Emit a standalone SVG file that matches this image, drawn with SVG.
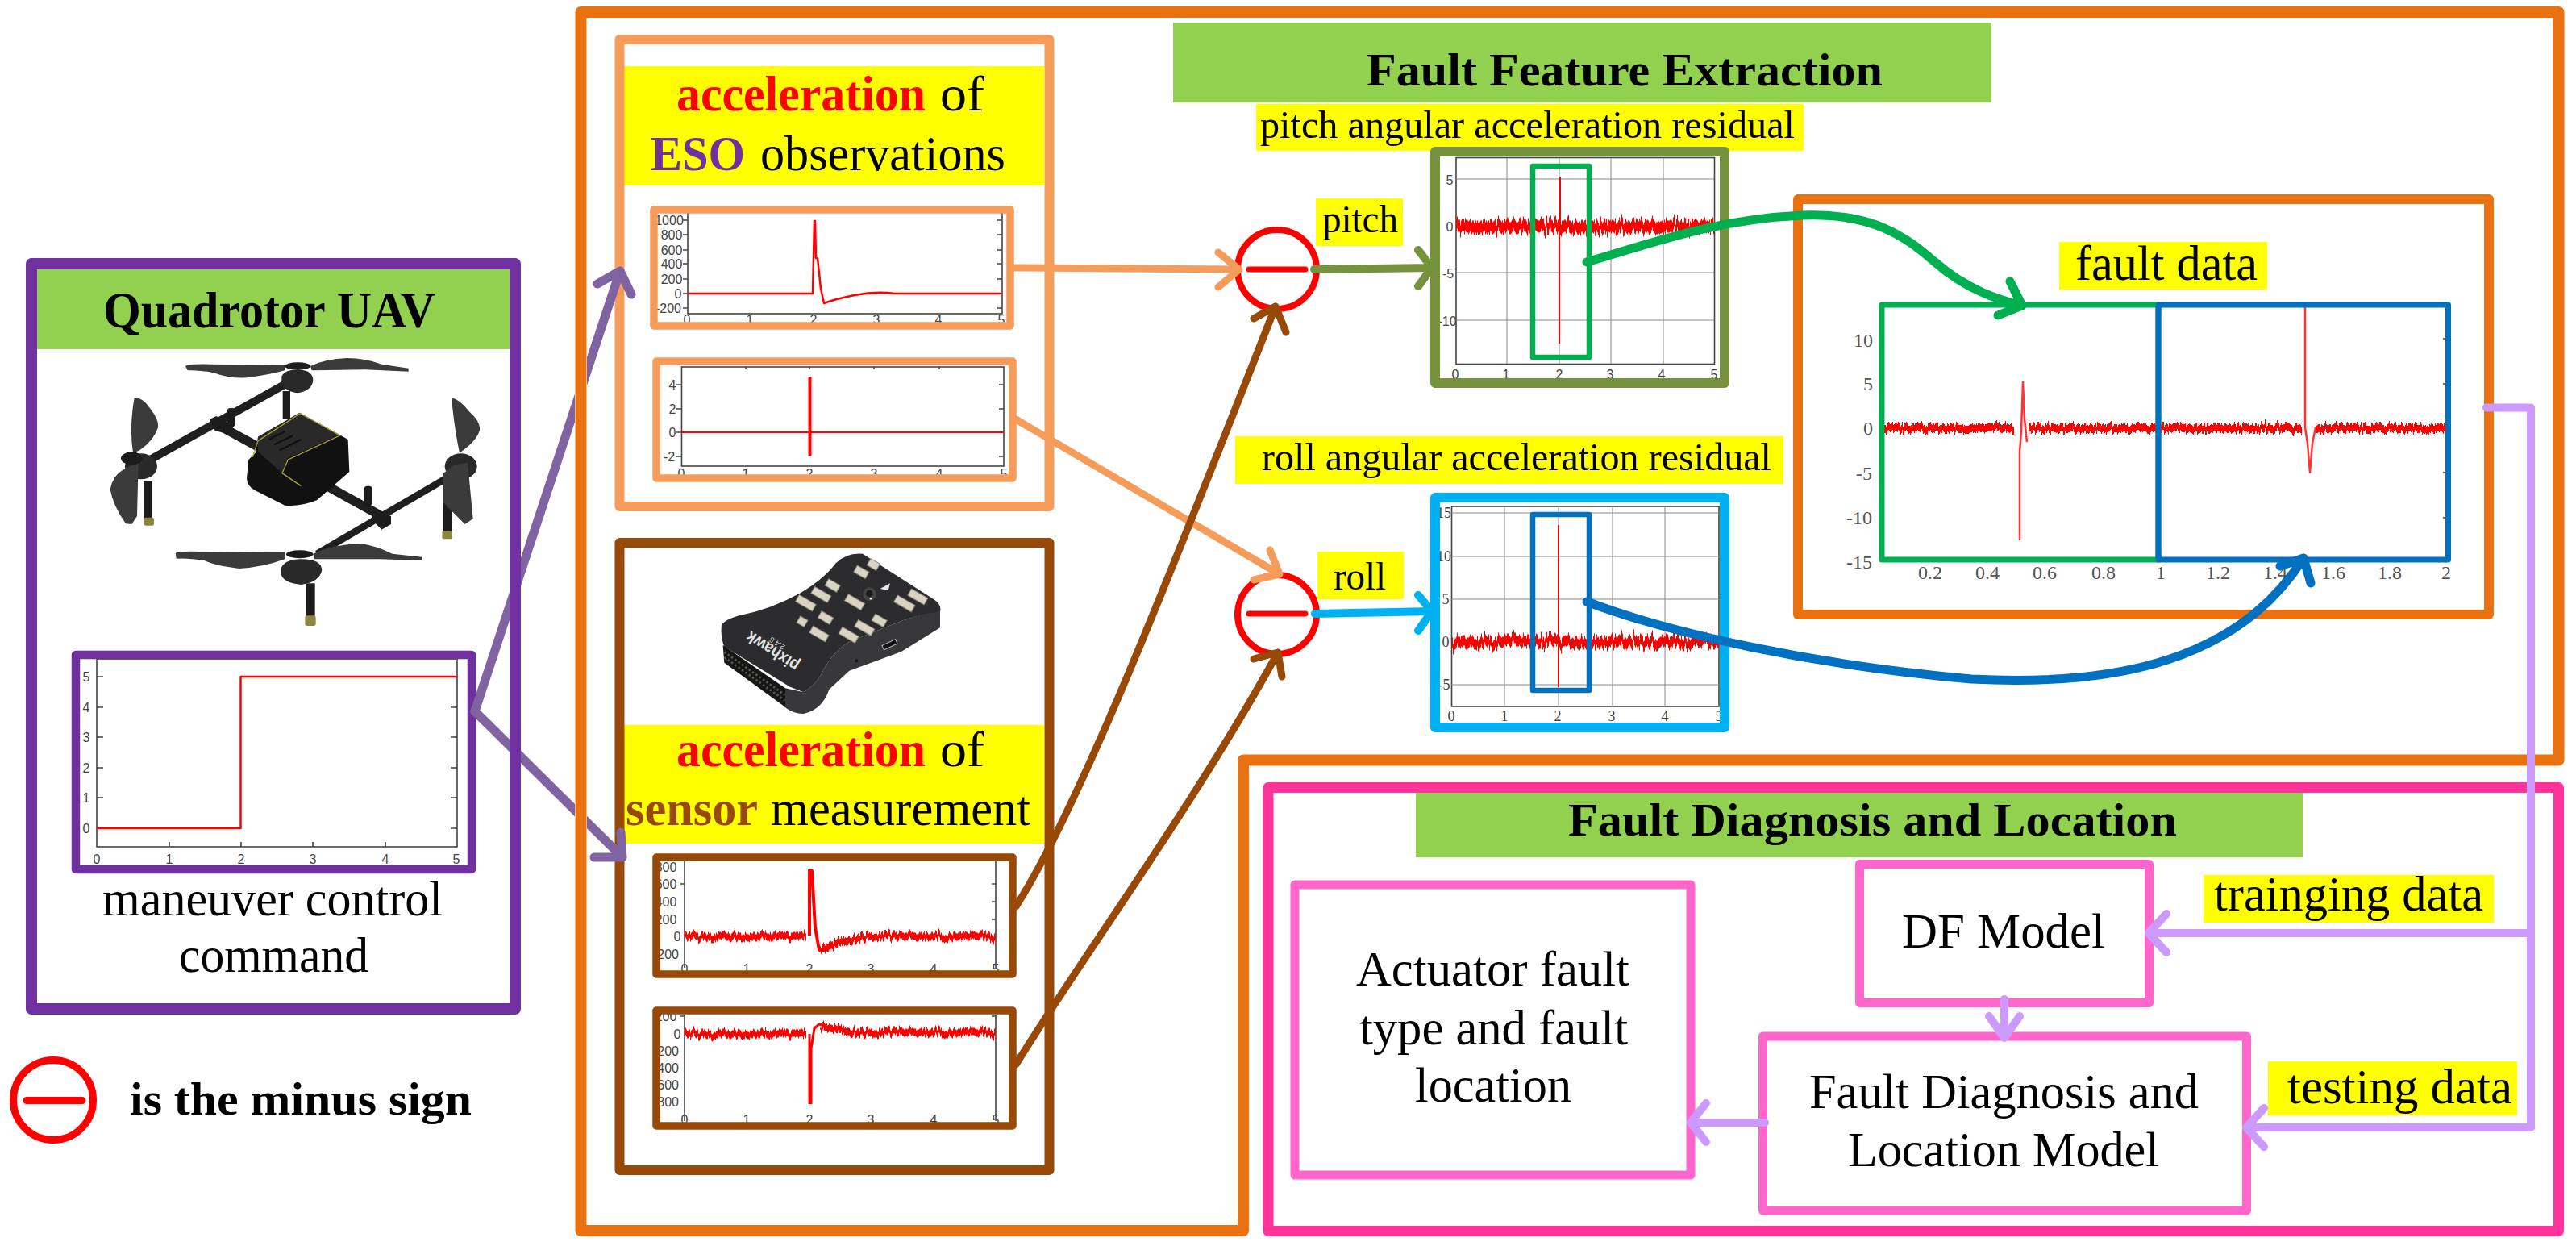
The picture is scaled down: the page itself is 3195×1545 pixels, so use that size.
<svg xmlns="http://www.w3.org/2000/svg" width="3195" height="1545" viewBox="0 0 3195 1545">
<style>
text{font-family:"Liberation Serif","Times New Roman",serif;fill:#000}
.b{font-weight:bold}
.t61{font-size:61px}.t48{font-size:48px}.t62{font-size:62px}.t58{font-size:58px}
.lb{font-size:16px;fill:#444;text-anchor:middle;font-family:"Liberation Sans",Arial,sans-serif}
.ls{font-size:18px;fill:#444;text-anchor:middle}
.lf{font-size:24px;fill:#555;text-anchor:middle}
.box{fill:none;stroke-linejoin:round}
.ax{fill:none;stroke:#444;stroke-width:1.6}
.grid{fill:none;stroke:#888;stroke-width:1}
.sig{fill:none;stroke:#f00;stroke-linejoin:round}
.con{fill:none;stroke-linecap:round;stroke-linejoin:round}
.y{fill:#ff0}.g{fill:#92d050}
.blade{fill:#3b3b3b}.arm{fill:none;stroke:#1f1f1f}.dk{fill:#1c1c1c}.mid{fill:#292929}.tip{fill:#8a8840}
.pin{fill:#d8d3c2;stroke:#8f8b7c;stroke-width:3}
</style>
<defs>
<filter id="n1" filterUnits="userSpaceOnUse" x="0" y="0" width="3195" height="1545" color-interpolation-filters="sRGB"><feTurbulence type="fractalNoise" baseFrequency="0.45 0.0005" numOctaves="3" seed="4"/><feColorMatrix values="1 0 0 0 0 0 0 0 0 .5 0 0 0 0 .5 0 0 0 0 1" result="m"/><feDisplacementMap in="SourceGraphic" in2="m" scale="26" xChannelSelector="G" yChannelSelector="R"/></filter>
<filter id="n2" filterUnits="userSpaceOnUse" x="0" y="0" width="3195" height="1545" color-interpolation-filters="sRGB"><feTurbulence type="fractalNoise" baseFrequency="0.45 0.0005" numOctaves="3" seed="9"/><feColorMatrix values="1 0 0 0 0 0 0 0 0 .5 0 0 0 0 .5 0 0 0 0 1" result="m"/><feDisplacementMap in="SourceGraphic" in2="m" scale="16" xChannelSelector="G" yChannelSelector="R"/></filter>
<clipPath id="gaps"><rect x="0" y="0" width="632" height="1545"/><rect x="646" y="0" width="67" height="1545"/><rect x="728" y="0" width="500" height="1545"/></clipPath>
</defs>
<rect width="3195" height="1545" fill="#fff"/>

<g id="eso-acceleration">
<rect class="y" x="774" y="82" width="521" height="148"/>
<text class="t62 b" x="839" y="137" textLength="309" lengthAdjust="spacingAndGlyphs" style="fill:#f00">acceleration</text>
<text class="t62" x="1166" y="137" textLength="55" lengthAdjust="spacingAndGlyphs">of</text>
<text class="t62 b" x="807" y="211" textLength="117" lengthAdjust="spacingAndGlyphs" style="fill:#7030a0">ESO</text>
<text class="t62" x="943" y="211" textLength="304" lengthAdjust="spacingAndGlyphs">observations</text>
<rect class="box" x="768.500" y="49" width="533" height="579" stroke="#f69c5a" stroke-width="12"/>
</g>
<g id="eso-chart-1">
<rect class="ax" x="853" y="262" width="390" height="127"/>
<path class="ax" d="M853,273h-6M853,291h-6M853,310h-6M853,327h-6M853,346h-6M853,364h-6M853,382h-6M1243,273h-6M1243,291h-6M1243,310h-6M1243,327h-6M1243,346h-6M1243,364h-6M1243,382h-6"/>
<text class="lb" x="830" y="279">1000</text><text class="lb" x="833" y="297">800</text><text class="lb" x="833" y="316">600</text><text class="lb" x="833" y="333">400</text><text class="lb" x="833" y="352">200</text><text class="lb" x="841" y="370">0</text><text class="lb" x="829" y="388">-200</text>
<text class="lb" x="852" y="402">0</text><text class="lb" x="930" y="402">1</text><text class="lb" x="1009" y="402">2</text><text class="lb" x="1087" y="402">3</text><text class="lb" x="1164" y="402">4</text><text class="lb" x="1242" y="402">5</text>
<path class="sig" stroke-width="2.500" d="M853,364H1008L1010,274H1011L1012,320H1014L1018,358L1022,376Q1035,371 1060,366T1110,364H1243"/>
<rect class="box" x="811" y="260" width="442" height="144" stroke="#f69c5a" stroke-width="9.500"/>
</g>
<g id="eso-chart-2">
<rect class="ax" x="845.500" y="455" width="399.500" height="123"/>
<path class="ax" d="M845,477h-6M845,507h-6M845,536h-6M845,566h-6M1245,477h-6M1245,507h-6M1245,536h-6M1245,566h-6M925,455v3M1004,455v3M1084,455v3M1165,455v3"/>
<text class="lb" x="834" y="483">4</text><text class="lb" x="834" y="513">2</text><text class="lb" x="834" y="542">0</text><text class="lb" x="830" y="572">-2</text>
<text class="lb" x="845" y="593">0</text><text class="lb" x="925" y="593">1</text><text class="lb" x="1004" y="593">2</text><text class="lb" x="1084" y="593">3</text><text class="lb" x="1165" y="593">4</text><text class="lb" x="1245" y="593">5</text>
<path class="sig" stroke-width="2" d="M845,536H1245"/><path class="sig" stroke-width="4" d="M1004.500,467V565"/>
<rect class="box" x="814" y="448" width="442" height="145" stroke="#f69c5a" stroke-width="9.500"/>
</g>

<g id="sensor-acceleration">
<rect class="y" x="774" y="899" width="521" height="147"/>
<text class="t62 b" x="839" y="950" textLength="309" lengthAdjust="spacingAndGlyphs" style="fill:#f00">acceleration</text>
<text class="t62" x="1166" y="950" textLength="55" lengthAdjust="spacingAndGlyphs">of</text>
<text class="t62 b" x="776" y="1023" textLength="164" lengthAdjust="spacingAndGlyphs" style="fill:#984807">sensor</text>
<text class="t62" x="956" y="1023" textLength="322" lengthAdjust="spacingAndGlyphs">measurement</text>
<rect class="box" x="768.500" y="673" width="533" height="778" stroke="#984807" stroke-width="12"/>
</g>
<g id="pixhawk" transform="translate(880,680) scale(.33333)">
<path d="M858,230V295L714,384L520,455L445,525Q420,600 350,615Q310,615 280,590L282,520L350,535Q400,505 420,460Q460,380 525,345L720,268Q790,245 858,230Z" fill="#38383a"/>
<path d="M45,285Q60,260 130,245Q230,225 340,165Q430,110 470,55Q510,15 570,20L835,190Q865,210 858,235Q790,245 720,268L525,345Q460,380 420,460Q400,505 350,535L300,515L55,365Q40,330 45,285Z" fill="#2c2c2e"/>
<path d="M50,360L282,520V590L55,425Z" fill="#161616"/>
<path d="M55,385L280,545M55,405L280,565" fill="none" stroke="#5a5a50" stroke-width="8" stroke-dasharray="7 9"/>
<g class="pin">
<rect x="590" y="46" width="40" height="28" transform="rotate(30 610 60)"/><rect x="540" y="74" width="50" height="28" transform="rotate(30 565 88)"/><rect x="433" y="124" width="50" height="28" transform="rotate(30 458 138)"/><rect x="380" y="158" width="70" height="28" transform="rotate(30 415 172)"/><rect x="322" y="189" width="72" height="28" transform="rotate(30 358 203)"/><rect x="505" y="186" width="70" height="28" transform="rotate(30 540 200)"/><rect x="407" y="244" width="50" height="28" transform="rotate(30 432 258)"/><rect x="329" y="258" width="32" height="28" transform="rotate(30 345 272)"/><rect x="607" y="254" width="50" height="28" transform="rotate(30 632 268)"/><rect x="542" y="281" width="70" height="28" transform="rotate(30 577 295)"/><rect x="374" y="304" width="68" height="28" transform="rotate(30 408 318)"/><rect x="483" y="308" width="70" height="28" transform="rotate(30 518 322)"/><rect x="688" y="191" width="75" height="28" transform="rotate(30 725 205)"/><rect x="740" y="166" width="70" height="28" transform="rotate(30 775 180)"/>
</g>
<circle cx="595" cy="170" r="25" fill="#444"/><circle cx="595" cy="168" r="12" fill="#1a1a1a"/><circle cx="600" cy="187" r="4" fill="#eee"/>
<path d="M635,150L672,130L665,157Z" fill="#e8e8e8"/>
<rect x="643" y="349" width="55" height="18" transform="rotate(-25 670 358)" fill="#111" stroke="#bbb" stroke-width="3"/>
<circle cx="547" cy="418" r="6" fill="#111"/>
<text transform="translate(338,425) rotate(213)" font-size="62" font-weight="bold" textLength="220" lengthAdjust="spacingAndGlyphs" style="fill:#e4e4e4;font-family:'Liberation Sans',sans-serif">pixhawk</text>
<text transform="translate(283,362) rotate(213)" font-size="28" style="fill:#ddd;font-family:'Liberation Sans',sans-serif">2.4.8</text>
</g>
<g id="sensor-chart-1">
<path class="ax" d="M849,1068V1200M1235,1068V1200M1235,1096h-5M1235,1118h-5M1235,1140h-5M849,1096h-5"/>
<text class="lb" x="826" y="1081">800</text><text class="lb" x="826" y="1102">600</text><text class="lb" x="826" y="1124">400</text><text class="lb" x="826" y="1146">200</text><text class="lb" x="840" y="1167">0</text><text class="lb" x="826" y="1189">-200</text>
<text class="lb" x="849" y="1207">0</text><text class="lb" x="926" y="1207">1</text><text class="lb" x="1004" y="1207">2</text><text class="lb" x="1080" y="1207">3</text><text class="lb" x="1158" y="1207">4</text><text class="lb" x="1235" y="1207">5</text>
<path class="sig" stroke-width="9" filter="url(#n2)" d="M849,1161H1000M1018,1178Q1040,1168 1065,1163T1100,1161H1235"/>
<path class="sig" stroke-width="4" d="M1004,1160V1079L1007,1080L1011,1150L1016,1178L1024,1178"/>
<rect class="box" x="814" y="1063" width="442" height="145" stroke="#984807" stroke-width="9.500"/>
</g>
<g id="sensor-chart-2">
<path class="ax" d="M849,1258V1390M1235,1258V1390M849,1260h-5M1235,1260h-5M1235,1282h-5"/>
<text class="lb" x="826" y="1266">200</text><text class="lb" x="840" y="1288">0</text><text class="lb" x="826" y="1309">-200</text><text class="lb" x="826" y="1330">-400</text><text class="lb" x="826" y="1351">-600</text><text class="lb" x="826" y="1372">-800</text>
<text class="lb" x="849" y="1394">0</text><text class="lb" x="926" y="1394">1</text><text class="lb" x="1004" y="1394">2</text><text class="lb" x="1080" y="1394">3</text><text class="lb" x="1158" y="1394">4</text><text class="lb" x="1235" y="1394">5</text>
<path class="sig" stroke-width="9" filter="url(#n2)" d="M849,1282H1000M1018,1272Q1035,1277 1060,1280H1235"/>
<path class="sig" stroke-width="3" d="M1004,1282V1369M1006,1369V1300L1010,1275L1016,1270L1026,1273"/>
<rect class="box" x="814" y="1253" width="442" height="143" stroke="#984807" stroke-width="9.500"/>
</g>

<g id="feature-header">
<rect class="g" x="1455" y="28" width="1015" height="99"/>
<text class="t58 b" x="1695" y="106" textLength="640" lengthAdjust="spacingAndGlyphs">Fault Feature Extraction</text>
</g>

<g id="minus-pitch">
<circle cx="1584" cy="334" r="49" fill="none" stroke="#f00" stroke-width="8"/>
<path d="M1549,334H1619" stroke="#f00" stroke-width="7" stroke-linecap="round"/>
</g>
<g id="minus-roll">
<circle cx="1584" cy="762" r="49" fill="none" stroke="#f00" stroke-width="8"/>
<path d="M1549,761H1619" stroke="#f00" stroke-width="7" stroke-linecap="round"/>
</g>
<g id="pitch-label"><rect class="y" x="1632" y="246" width="108" height="59"/><text class="t48" x="1640" y="288" textLength="94" lengthAdjust="spacingAndGlyphs">pitch</text></g>
<g id="roll-label"><rect class="y" x="1634" y="684" width="107" height="59"/><text class="t48" x="1654" y="731" textLength="65" lengthAdjust="spacingAndGlyphs">roll</text></g>
<g id="pitch-residual-label"><rect class="y" x="1558" y="129" width="679" height="58"/><text class="t48" x="1563" y="171" textLength="663" lengthAdjust="spacingAndGlyphs">pitch angular acceleration residual</text></g>
<g id="roll-residual-label"><rect class="y" x="1532" y="541" width="680" height="59"/><text class="t48" x="1565" y="583" textLength="632" lengthAdjust="spacingAndGlyphs">roll angular acceleration residual</text></g>

<g id="pitch-chart">
<rect class="ax" x="1806" y="195.500" width="320.500" height="256"/>
<path class="grid" d="M1869,196V451M1934,196V451M1998,196V451M2063,196V451M1806,222H2126M1806,338H2126M1806,397H2126"/>
<text class="lb" x="1798" y="229">5</text><text class="lb" x="1798" y="287">0</text><text class="lb" x="1796" y="345">-5</text><text class="lb" x="1795" y="404">-10</text>
<text class="lb" x="1805" y="470">0</text><text class="lb" x="1868" y="470">1</text><text class="lb" x="1934" y="470">2</text><text class="lb" x="1997" y="470">3</text><text class="lb" x="2061" y="470">4</text><text class="lb" x="2126" y="470">5</text>
<path class="sig" stroke-width="15" filter="url(#n1)" d="M1806,281H2126"/>
<path class="sig" stroke-width="2" d="M1935,220V285M1934,285V426"/>
<rect class="box" x="1780" y="188" width="359" height="287" stroke="#76923c" stroke-width="12"/>
<rect class="box" x="1901" y="206" width="70" height="237" stroke="#00b050" stroke-width="6.500"/>
</g>
<g id="roll-chart">
<rect class="ax" x="1800.500" y="628" width="331.500" height="248"/>
<path class="grid" d="M1866,628V876M1933,628V876M2000,628V876M2065,628V876M1800,636H2132M1800,690H2132M1800,743H2132M1800,849H2132"/>
<text class="ls" x="1791" y="642">15</text><text class="ls" x="1791" y="696">10</text><text class="ls" x="1793" y="749">5</text><text class="ls" x="1793" y="802">0</text><text class="ls" x="1791" y="855">-5</text>
<text class="ls" x="1800" y="894">0</text><text class="ls" x="1866" y="894">1</text><text class="ls" x="1932" y="894">2</text><text class="ls" x="1999" y="894">3</text><text class="ls" x="2065" y="894">4</text><text class="ls" x="2132" y="894">5</text>
<path class="sig" stroke-width="13" filter="url(#n1)" d="M1801,796H2132"/>
<path class="sig" stroke-width="2" d="M1933,651V852"/>
<rect class="box" x="1780" y="617" width="359" height="285" stroke="#00b0f0" stroke-width="12"/>
<rect class="box" x="1901" y="638" width="70" height="218" stroke="#0070c0" stroke-width="6.500"/>
</g>

<g id="fault-data">
<rect class="box" x="2230" y="247" width="857" height="515" stroke="#e9710f" stroke-width="12"/>
<rect class="y" x="2554" y="300" width="258" height="59"/>
<text class="t62" x="2574" y="347" textLength="226" lengthAdjust="spacingAndGlyphs">fault data</text>
<text class="lf" x="2311" y="430">10</text><text class="lf" x="2317" y="484">5</text><text class="lf" x="2317" y="539">0</text><text class="lf" x="2312" y="595">-5</text><text class="lf" x="2306" y="650">-10</text><text class="lf" x="2306" y="705">-15</text>
<text class="lf" x="2394" y="718">0.2</text><text class="lf" x="2465" y="718">0.4</text><text class="lf" x="2536" y="718">0.6</text><text class="lf" x="2609" y="718">0.8</text><text class="lf" x="2680" y="718">1</text><text class="lf" x="2751" y="718">1.2</text><text class="lf" x="2822" y="718">1.4</text><text class="lf" x="2894" y="718">1.6</text><text class="lf" x="2964" y="718">1.8</text><text class="lf" x="3034" y="718">2</text>
<path class="ax" d="M3030,420h3M3030,476h3M3030,586h3M3030,642h3"/>
<path class="sig" stroke-width="10" filter="url(#n2)" d="M2336,531H2498M2516,531H2855M2872,531H3033"/>
<path class="sig" stroke-width="2.500" d="M2505,670V560L2507,535L2509,474L2511,520L2514,548M2859,381V530L2862,550L2865,586L2868,550L2872,530" opacity=".8"/>
<rect class="box" x="2334" y="378" width="343" height="316" stroke="#00b050" stroke-width="7"/>
<rect class="box" x="2677" y="378" width="359.500" height="316" stroke="#0070c0" stroke-width="7"/>
</g>

<g id="fault-diagnosis-header">
<rect class="g" x="1756" y="983" width="1100" height="80"/>
<text class="t58 b" x="1945" y="1036" textLength="755" lengthAdjust="spacingAndGlyphs">Fault Diagnosis and Location</text>
</g>
<g id="df-model">
<rect class="box" x="2306.500" y="1071.500" width="359" height="172" stroke="#ff66cc" stroke-width="11"/>
<text class="t61" x="2359" y="1175" textLength="252" lengthAdjust="spacingAndGlyphs">DF Model</text>
</g>
<g id="actuator-result">
<rect class="box" x="1606" y="1097" width="491" height="360" stroke="#ff66cc" stroke-width="11"/>
<text class="t61" x="1682" y="1222" textLength="339" lengthAdjust="spacingAndGlyphs">Actuator fault</text>
<text class="t61" x="1686" y="1295" textLength="333" lengthAdjust="spacingAndGlyphs">type and fault</text>
<text class="t61" x="1755" y="1366" textLength="194" lengthAdjust="spacingAndGlyphs">location</text>
</g>
<g id="diagnosis-model">
<rect class="box" x="2186.500" y="1285" width="600" height="216" stroke="#ff66cc" stroke-width="11"/>
<text class="t61" x="2244" y="1374" textLength="483" lengthAdjust="spacingAndGlyphs">Fault Diagnosis and</text>
<text class="t61" x="2292" y="1446" textLength="386" lengthAdjust="spacingAndGlyphs">Location Model</text>
</g>
<g id="training-label"><rect class="y" x="2733" y="1085" width="360" height="59"/><text class="t61" x="2746" y="1129" textLength="334" lengthAdjust="spacingAndGlyphs">trainging data</text></g>
<g id="testing-label"><rect class="y" x="2813" y="1316" width="309" height="67"/><text class="t61" x="2837" y="1368" textLength="279" lengthAdjust="spacingAndGlyphs">testing data</text></g>

<g id="legend">
<circle cx="66" cy="1364" r="49.500" fill="none" stroke="#f00" stroke-width="9"/>
<path d="M33,1364.500H102" stroke="#f00" stroke-width="9" stroke-linecap="round"/>
<text class="t58 b" x="161" y="1382" textLength="424" lengthAdjust="spacingAndGlyphs">is the minus sign</text>
</g>

<g id="extraction-frame"><path class="box" d="M720.500,15H3173.500V942.500H1542V1526H720.500Z" stroke="#e9710f" stroke-width="14"/></g>
<g id="diagnosis-frame"><rect class="box" x="1573" y="976.500" width="1600.500" height="550" stroke="#ff3399" stroke-width="13"/></g>

<g id="uav">
<rect class="g" x="45" y="334" width="588" height="99"/>
<text class="b" font-size="64" x="128" y="406" textLength="412" lengthAdjust="spacingAndGlyphs">Quadrotor UAV</text>
<text class="t61" x="127" y="1135" textLength="422" lengthAdjust="spacingAndGlyphs">maneuver control</text>
<text class="t61" x="222" y="1205" textLength="235" lengthAdjust="spacingAndGlyphs">command</text>
<g id="drone" transform="translate(120,430) scale(.33333)">
<rect class="dk" x="692" y="165" width="28" height="105"/>
<path class="arm" stroke-width="30" d="M700,140L190,425"/>
<path class="arm" stroke-width="34" d="M450,290L600,372"/>
<path class="arm" stroke-width="34" d="M860,520L1060,630"/>
<path class="arm" stroke-width="26" d="M1300,490L820,770"/>
<path class="dk" d="M420,270L445,258L510,295L490,325L440,312Z"/>
<rect class="dk" x="485" y="228" width="30" height="70" rx="12"/>
<rect class="dk" x="995" y="518" width="30" height="72" rx="12"/>
<path class="dk" d="M1040,605L1095,630V660L1060,680L1020,640Z"/>
<path class="blade" d="M330,72Q340,63 420,65L700,68V88Q640,105 560,115Q490,118 440,98Q380,85 338,88Z"/>
<path class="blade" d="M795,72Q850,45 930,42Q1000,42 1060,65L1160,80V92L1000,85L800,88Z"/>
<path class="mid" d="M688,110Q700,85 750,85Q805,88 805,125Q800,165 745,172Q695,165 688,130Z"/>
<ellipse class="dk" cx="748" cy="72" rx="48" ry="14"/>
<rect class="dk" x="175" y="500" width="30" height="140"/><rect class="tip" x="175" y="635" width="38" height="30" rx="8"/>
<ellipse class="mid" cx="165" cy="445" rx="60" ry="48"/>
<path class="blade" d="M140,190Q170,188 195,225Q232,270 228,300Q215,345 160,385L135,395Q120,300 140,190Z"/>
<path class="blade" d="M155,430L150,630L130,660L108,658Q60,590 50,530Q60,480 95,460Q130,440 155,430Z"/>
<ellipse class="dk" cx="130" cy="415" rx="40" ry="24"/>
<path fill="#111" d="M755,245L935,345L940,465L820,570Q760,595 700,590L590,535Q560,520 558,490L565,420L590,395L600,335Z"/>
<path class="mid" d="M755,247L900,330L710,415L690,470L600,390V335Z"/>
<path d="M640,345L700,315M660,365L730,330M680,385L760,345" fill="none" stroke="#111" stroke-width="7"/>
<path d="M580,410L600,350L757,248L905,330L712,420L690,470L760,518" fill="none" stroke="#a8a23c" stroke-width="4"/>
<rect class="dk" x="1290" y="580" width="30" height="110"/><rect class="tip" x="1285" y="685" width="38" height="30" rx="8"/>
<ellipse class="mid" cx="1355" cy="445" rx="60" ry="48"/>
<path class="blade" d="M1320,190Q1350,195 1385,240Q1430,280 1425,310Q1415,350 1350,395Q1330,300 1320,190Z"/>
<path class="blade" d="M1330,440L1380,430L1400,640L1370,660L1290,580V470Z"/>
<path class="blade" d="M293,768Q300,760 380,762L700,765V790Q620,820 530,825Q440,815 400,795Q340,785 296,788Z"/>
<path class="blade" d="M805,770Q880,735 980,732Q1040,740 1100,770L1210,782V795L1050,790L810,790Z"/>
<rect class="dk" x="778" y="880" width="34" height="125"/><rect class="tip" x="775" y="1000" width="40" height="38" rx="8"/>
<path class="mid" d="M685,825Q700,790 760,790Q835,790 838,830Q830,875 760,885Q700,880 687,850Z"/>
<ellipse class="dk" cx="755" cy="772" rx="50" ry="15"/>
</g>
<rect class="box" x="39" y="327" width="600" height="924" stroke="#7030a0" stroke-width="14"/>
</g>
<g id="uav-command">
<rect class="ax" x="120" y="817" width="447" height="233"/>
<path class="ax" d="M120,839h8M120,877h8M120,914h8M120,952h8M120,989h8M120,1027h8M559,839h8M559,877h8M559,914h8M559,952h8M559,989h8M559,1027h8M210,1050v-6M299,1050v-6M388,1050v-6M478,1050v-6"/>
<text class="lb" x="107" y="845">5</text><text class="lb" x="107" y="883">4</text><text class="lb" x="107" y="920">3</text><text class="lb" x="107" y="958">2</text><text class="lb" x="107" y="995">1</text><text class="lb" x="107" y="1033">0</text>
<text class="lb" x="120" y="1071">0</text><text class="lb" x="210" y="1071">1</text><text class="lb" x="299" y="1071">2</text><text class="lb" x="388" y="1071">3</text><text class="lb" x="478" y="1071">4</text><text class="lb" x="566" y="1071">5</text>
<path class="sig" stroke-width="2.500" d="M120,1027H298.500V839H567"/>
<rect class="box" x="94" y="812" width="491" height="266" stroke="#7030a0" stroke-width="10.500"/>
</g>

<g id="connectors" class="con">
<g stroke="#8064a2" stroke-width="11" clip-path="url(#gaps)"><path d="M589,882L769,336M741,352L769,336L783,365"/><path d="M589,882L772,1063M737,1063H772L770,1032"/></g>
<g stroke="#f69c5a" stroke-width="9"><path d="M1258,332L1537,334M1511,313L1537,334L1511,356"/><path d="M1260,520L1587,712M1575,682L1587,712L1555,719"/></g>
<g stroke="#984807" stroke-width="9"><path d="M1260,1124C1340,1000 1460,690 1582,380M1555,395L1582,380L1595,412"/><path d="M1260,1320C1340,1190 1480,1000 1585,809M1555,817L1585,809L1590,839"/></g>
<path stroke="#76923c" stroke-width="10" d="M1630,334L1776,332M1759,310L1776,332L1759,355"/>
<path stroke="#00b0f0" stroke-width="10" d="M1631,761L1776,758M1759,738L1776,758L1759,782"/>
<path stroke="#00b050" stroke-width="11" d="M1968,325C2060,298 2130,272 2235,267C2330,263 2370,300 2400,325C2440,360 2480,372 2508,379M2493,349L2508,379L2478,391"/>
<path stroke="#0070c0" stroke-width="11" d="M1968,746C2070,785 2250,825 2445,842C2600,850 2770,830 2857,692M2828,702L2857,692L2866,723"/>
<g stroke="#cc99ff" stroke-width="10"><path d="M3084,505.500H3139V1398M3139,1157H2665M2687,1133L2665,1157L2687,1181"/><path d="M3139,1398H2786M2808,1374L2786,1398L2808,1422"/><path d="M2486,1239V1287M2467,1260L2486,1287L2505,1260"/><path d="M2189,1392H2097M2116,1368L2097,1392L2116,1416"/></g>
</g>
</svg>
